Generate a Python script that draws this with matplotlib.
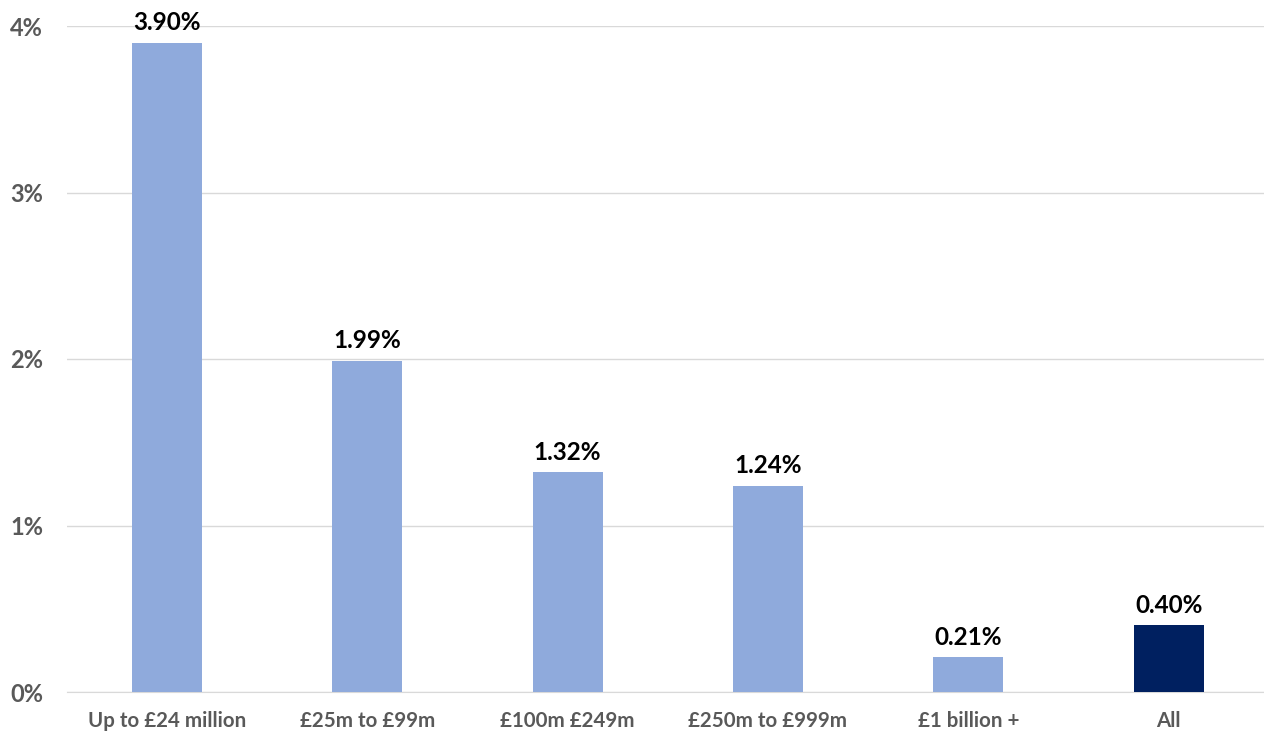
import matplotlib.pyplot as plt
from matplotlib.ticker import FuncFormatter

# bands de chiffre d'affaires et taux correspondants (%)
categories = ["Up to £24 million", "£25m to £99m", "£100m £249m",
              "£250m to £999m", "£1 billion +", "All"]
values = [3.90, 1.99, 1.32, 1.24, 0.21, 0.40]
highlight = ["All"]

LIGHT = "#8FAADC"
DARK = "#002060"
GRID = "#D9D9D9"
TICK = "#595959"

plt.rcParams['font.family'] = ['Lato', 'DejaVu Sans']

fig = plt.figure(figsize=(12.64, 7.35), dpi=100)
ax = fig.add_axes([66.8 / 1264, 43 / 735, 1202 / 1264, 666 / 735])

colors = [DARK if c in highlight else LIGHT for c in categories]
x = range(len(categories))
bars = ax.bar(x, values, width=0.35, color=colors, zorder=3)

# étiquettes de valeur au-dessus de chaque barre
for b, v in zip(bars, values):
    ax.annotate(f"{v:.2f}%", (b.get_x() + b.get_width() / 2, v),
                xytext=(0, 6), textcoords="offset points",
                ha="center", va="bottom", fontsize=17.5, fontweight="bold",
                color="black")

ax.set_xlim(-0.5, len(categories) - 0.5)
ax.set_ylim(0, 4)
ax.set_yticks([0, 1, 2, 3, 4])
ax.yaxis.set_major_formatter(FuncFormatter(lambda v, _: f"{v:.0f}%"))
ax.set_xticks(list(x))
ax.set_xticklabels(categories)

ax.grid(axis="y", color=GRID, linewidth=1, zorder=0)
for side in ["top", "right", "left"]:
    ax.spines[side].set_visible(False)
ax.spines["bottom"].set_color(GRID)
ax.tick_params(axis="both", length=0, colors=TICK)
ax.tick_params(axis="y", pad=17, labelsize=17)
ax.tick_params(axis="x", pad=14, labelsize=14.8)
for lbl in ax.get_xticklabels() + ax.get_yticklabels():
    lbl.set_fontweight("bold")

fig.savefig("out.png", dpi=100)
